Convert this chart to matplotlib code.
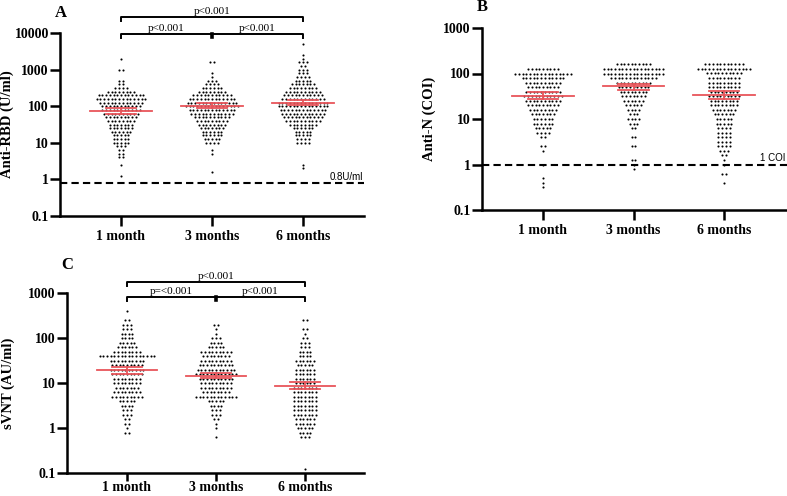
import numpy as np
import matplotlib
matplotlib.use("Agg")
import matplotlib.pyplot as plt

groups = ['1 month', '3 months', '6 months']
yticks = [0.1, 1, 10, 100, 1000, 10000]
LOG_STEP = 0.1  # dots are counted per 0.1 decade

# Anti-RBD (U/ml) - dot counts per level, first level = 10**start
rbd_1m_start = 0.1
rbd_1m_counts = [1, 0, 0, 1, 0, 2, 2, 2, 3, 5, 5, 5, 6, 7, 7, 8, 9, 10, 11, 11,
                 12, 14, 13, 8, 4, 2, 2, 0, 0, 2, 0, 0, 1]
rbd_3m_start = 0.2
rbd_3m_counts = [1, 0, 0, 0, 0, 1, 1, 0, 4, 5, 6, 6, 7, 8, 9, 10, 12, 13, 15, 14,
                 13, 11, 8, 6, 4, 3, 1, 1, 0, 0, 2]
rbd_6m_start = 0.3
rbd_6m_counts = [1, 1, 0, 0, 0, 0, 0, 4, 4, 5, 5, 6, 8, 10, 11, 12, 13, 14, 14, 12,
                 11, 10, 8, 7, 5, 4, 3, 3, 2, 3, 1, 1, 0, 0, 1]
rbd_gmean = [74, 104, 123]
rbd_ci_lo = [63, 87, 107]
rbd_ci_hi = [89, 122, 150]

# Anti-N (COI)
n_1m_start = -0.5
n_1m_counts = [1, 1, 1, 0, 0, 1, 0, 0, 1, 2, 0, 2, 4, 5, 6, 6, 7, 8, 9, 10,
               11, 10, 9, 10, 12, 16, 9]
n_3m_start = -0.1
n_3m_counts = [1, 1, 2, 0, 0, 2, 0, 2, 0, 2, 3, 4, 3, 4, 5, 6, 7, 8, 9, 10,
               13, 17, 17, 10]
n_6m_start = -0.4
n_6m_counts = [1, 0, 2, 0, 1, 1, 2, 3, 4, 4, 4, 4, 4, 5, 5, 6, 7, 8, 8, 9,
               8, 9, 9, 9, 10, 15, 11]
n_gmean = [32, 52, 34]
n_ci_lo = [27, 44, 27]
n_ci_hi = [39, 59, 42]

# sVNT (AU/ml)
svnt_1m_start = -0.1
svnt_1m_counts = [2, 1, 2, 2, 3, 3, 4, 5, 9, 8, 7, 8, 8, 9, 10, 9, 10, 16, 8, 6,
                  5, 4, 4, 3, 3, 2, 0, 1]
svnt_3m_start = -0.2
svnt_3m_counts = [1, 0, 1, 1, 2, 3, 3, 4, 5, 12, 8, 9, 9, 10, 12, 11, 10, 9, 8, 9,
                  5, 4, 3, 1, 1, 2]
svnt_6m_start = -0.9
svnt_6m_counts = [1, 0, 0, 0, 0, 0, 0, 3, 4, 5, 6, 6, 7, 7, 7, 7, 7, 7, 7, 6,
                  6, 6, 6, 5, 6, 4, 4, 3, 3, 2, 1, 2, 0, 2]
svnt_gmean = [19, 14.5, 8.7]
svnt_ci_lo = [15.9, 12.9, 7.2]
svnt_ci_hi = [22.4, 16.5, 10.7]

SERIF = 'Liberation Serif'
RED = '#e8555a'
W, H = 787, 496


def swarm(ax, pos, start, counts, dx=0.041):
    for i, n in enumerate(counts):
        if n == 0:
            continue
        y = 10 ** (start + i * LOG_STEP)
        xs = pos + (np.arange(n) - (n - 1) / 2) * dx
        ax.scatter(xs, np.full(n, y), s=2.3, color='black', linewidths=0, zorder=2)


def mean_ci(ax, gmean, lo, hi):
    for i in range(len(gmean)):
        ax.plot([i - 0.34, i + 0.34], [gmean[i], gmean[i]], color=RED, lw=1.3, zorder=3)
        ax.plot([i - 0.17, i + 0.17], [lo[i], lo[i]], color=RED, lw=1.3, zorder=3)
        ax.plot([i - 0.17, i + 0.17], [hi[i], hi[i]], color=RED, lw=1.3, zorder=3)
        ax.plot([i, i], [lo[i], hi[i]], color=RED, lw=1.3, zorder=3)


def brackets(ax, y_low, y_high, h, labels):
    tr = ax.get_xaxis_transform()
    kw = dict(transform=tr, clip_on=False, color='black', lw=1.4)
    ax.plot([0, 0, 2, 2], [y_low - h, y_low, y_low, y_low - h], **kw)
    ax.plot([1, 1], [y_low, y_low - h * 0.8], color='black', lw=2.6,
            transform=tr, clip_on=False)
    ax.plot([0, 0, 2, 2], [y_high - h, y_high, y_high, y_high - h], **kw)
    tkw = dict(transform=tr, ha='center', va='bottom', fontsize=8, family=SERIF)
    ax.text(0.5, y_low + 0.004, labels[0], **tkw)
    ax.text(1.5, y_low + 0.004, labels[1], **tkw)
    ax.text(1.0, y_high + 0.004, labels[2], **tkw)


def style(ax, xlim, ylabel, label_x, xtick_len=7, xpad=3):
    ax.set_yscale('log')
    ax.set_ylim(0.1, yticks[-1])
    ax.set_xlim(*xlim)
    ax.set_yticks(yticks)
    ax.set_yticklabels([f'{t:g}' for t in yticks])
    ax.minorticks_off()
    ax.set_xticks(range(3))
    ax.set_xticklabels(groups)
    for s in ['top', 'right']:
        ax.spines[s].set_visible(False)
    for s in ['left', 'bottom']:
        ax.spines[s].set_linewidth(1.8)
    ax.tick_params(axis='y', length=7, width=1.8, pad=1)
    ax.tick_params(axis='x', length=xtick_len, width=1.8, pad=xpad)
    for lab in ax.get_xticklabels() + ax.get_yticklabels():
        lab.set_fontfamily(SERIF)
        lab.set_fontweight('bold')
        lab.set_fontsize(10)
    ax.set_ylabel(ylabel, fontfamily=SERIF, fontweight='bold', fontsize=10.5)
    ax.yaxis.set_label_coords(label_x, 0.5)


def threshold(ax, level, label):
    ax.axhline(level, color='black', lw=1.5, dashes=(3.5, 2), zorder=1)
    ax.annotate(label, xy=(1, level), xycoords=('axes fraction', 'data'),
                xytext=(-1, 1), textcoords='offset points', ha='right', va='bottom',
                fontsize=7, family='Liberation Sans')


fig = plt.figure(figsize=(W / 100, H / 100), dpi=100)

# A: Anti-RBD
axA = fig.add_axes([60 / W, 1 - 216 / H, 304 / W, 183 / H])
yticks = [0.1, 1, 10, 100, 1000, 10000]
style(axA, (-0.67, 2.67), 'Anti-RBD (U/ml)', -0.151)
threshold(axA, 0.8, '0.8U/ml')
swarm(axA, 0, rbd_1m_start, rbd_1m_counts)
swarm(axA, 1, rbd_3m_start, rbd_3m_counts)
swarm(axA, 2, rbd_6m_start, rbd_6m_counts)
mean_ci(axA, rbd_gmean, rbd_ci_lo, rbd_ci_hi)
brackets(axA, 0.995, 1.087, 0.022, ['p<0.001', 'p<0.001', 'p<0.001'])

# B: Anti-N
axB = fig.add_axes([482 / W, 1 - 210 / H, 305 / W, 182 / H])
yticks = [0.1, 1, 10, 100, 1000]
style(axB, (-0.674, 2.696), 'Anti-N (COI)', -0.151)
threshold(axB, 1, '1 COI')
swarm(axB, 0, n_1m_start, n_1m_counts)
swarm(axB, 1, n_3m_start, n_3m_counts)
swarm(axB, 2, n_6m_start, n_6m_counts)
mean_ci(axB, n_gmean, n_ci_lo, n_ci_hi)

# C: sVNT
axC = fig.add_axes([67 / W, 1 - 473 / H, 297 / W, 180 / H])
style(axC, (-0.674, 2.663), 'sVNT (AU/ml)', -0.175, xtick_len=5.5, xpad=0.5)
swarm(axC, 0, svnt_1m_start, svnt_1m_counts)
swarm(axC, 1, svnt_3m_start, svnt_3m_counts)
swarm(axC, 2, svnt_6m_start, svnt_6m_counts)
mean_ci(axC, svnt_gmean, svnt_ci_lo, svnt_ci_hi)
brackets(axC, 0.978, 1.061, 0.022, ['p=<0.001', 'p<0.001', 'p<0.001'])

for letter, x, y in [('A', 61, 13), ('B', 482, 7), ('C', 67, 265)]:
    fig.text(x / W, 1 - y / H, letter, ha='center', va='center',
             fontfamily=SERIF, fontweight='bold', fontsize=12)

fig.savefig('out.png', dpi=100)
